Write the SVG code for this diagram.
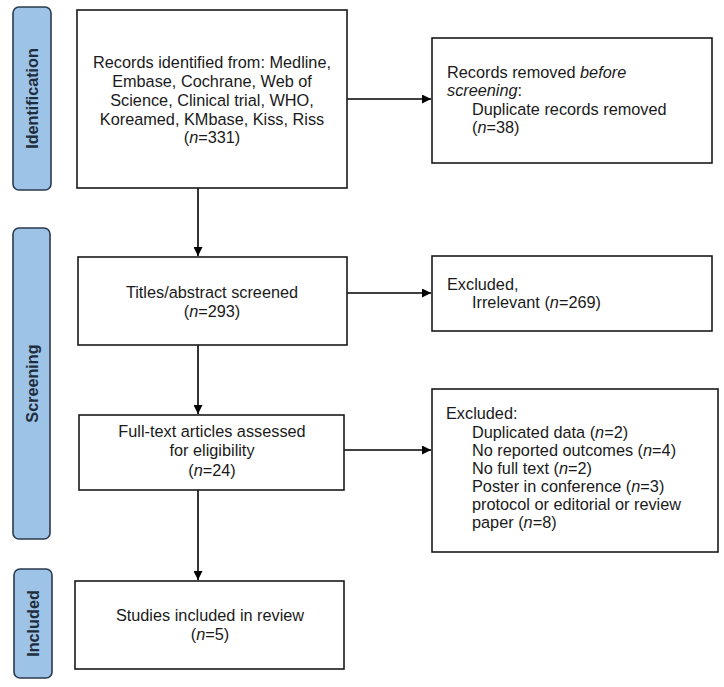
<svg xmlns="http://www.w3.org/2000/svg" width="724" height="687" viewBox="0 0 724 687">
<style>
.box{fill:#fff;stroke:#1a1a1a;stroke-width:1.6}
.side{fill:#9dc3e6;stroke:#2b3a4e;stroke-width:1.6}
.t{font-family:"Liberation Sans",Arial,sans-serif;font-size:16.3px;fill:#1a1a1a}
.c{text-anchor:middle}
.s{font-family:"Liberation Sans",Arial,sans-serif;font-size:16.2px;font-weight:bold;fill:#1f2d3d;text-anchor:middle}
.ln{stroke:#000;stroke-width:1.6;fill:none;marker-end:url(#ah)}
</style>
<defs>
<marker id="ah" viewBox="0 0 10 10" refX="10" refY="5" markerWidth="9" markerHeight="9" markerUnits="userSpaceOnUse" orient="auto">
<path d="M0,0 L10,5 L0,10 z" fill="#000"/>
</marker>
</defs>
<rect width="724" height="687" fill="#fff"/>
<g id="side-identification">
<rect class="side" x="13" y="7" width="38" height="183" rx="6"/>
<text class="s" transform="translate(38,98.5) rotate(-90)">Identification</text>
</g>
<g id="side-screening">
<rect class="side" x="13" y="228" width="37" height="311" rx="6"/>
<text class="s" transform="translate(37.5,383.5) rotate(-90)">Screening</text>
</g>
<g id="side-included">
<rect class="side" x="14" y="569" width="38" height="109" rx="6"/>
<text class="s" transform="translate(39,623.5) rotate(-90)">Included</text>
</g>
<g id="connectors">
<line class="ln" x1="347" y1="99" x2="431" y2="99"/>
<line class="ln" x1="198" y1="188" x2="198" y2="256"/>
<line class="ln" x1="347" y1="293" x2="431" y2="293"/>
<line class="ln" x1="198" y1="345" x2="198" y2="414"/>
<line class="ln" x1="344" y1="450" x2="431" y2="450"/>
<line class="ln" x1="198" y1="490" x2="198" y2="580"/>
</g>
<g id="records-identified">
<rect class="box" x="77" y="10" width="270" height="178"/>
<text class="t c" x="212" y="68">Records identified from: Medline,</text>
<text class="t c" x="212" y="87">Embase, Cochrane, Web of</text>
<text class="t c" x="212" y="106">Science, Clinical trial, WHO,</text>
<text class="t c" x="212" y="125">Koreamed, KMbase, Kiss, Riss</text>
<text class="t c" x="212" y="143">(<tspan font-style="italic">n</tspan>=331)</text>
</g>
<g id="records-removed">
<rect class="box" x="432" y="38" width="280" height="125"/>
<text class="t" x="447" y="78">Records removed <tspan font-style="italic">before</tspan></text>
<text class="t" x="447" y="96"><tspan font-style="italic">screening</tspan>:</text>
<text class="t" x="472" y="115">Duplicate records removed</text>
<text class="t" x="472" y="133">(<tspan font-style="italic">n</tspan>=38)</text>
</g>
<g id="titles-screened">
<rect class="box" x="78" y="257" width="269" height="88"/>
<text class="t c" x="212" y="298">Titles/abstract screened</text>
<text class="t c" x="212" y="317">(<tspan font-style="italic">n</tspan>=293)</text>
</g>
<g id="excluded-irrelevant">
<rect class="box" x="432" y="256" width="280" height="75"/>
<text class="t" x="447" y="290">Excluded,</text>
<text class="t" x="472" y="308">Irrelevant (<tspan font-style="italic">n</tspan>=269)</text>
</g>
<g id="full-text">
<rect class="box" x="79" y="415" width="265" height="75"/>
<text class="t c" x="212" y="437">Full-text articles assessed</text>
<text class="t c" x="212" y="456">for eligibility</text>
<text class="t c" x="212" y="476">(<tspan font-style="italic">n</tspan>=24)</text>
</g>
<g id="excluded-full">
<rect class="box" x="432" y="389" width="286" height="163"/>
<text class="t" x="446" y="419">Excluded:</text>
<text class="t" x="472" y="438">Duplicated data (<tspan font-style="italic">n</tspan>=2)</text>
<text class="t" x="472" y="456">No reported outcomes (<tspan font-style="italic">n</tspan>=4)</text>
<text class="t" x="472" y="474">No full text (<tspan font-style="italic">n</tspan>=2)</text>
<text class="t" x="472" y="492">Poster in conference (<tspan font-style="italic">n</tspan>=3)</text>
<text class="t" x="472" y="510">protocol or editorial or review</text>
<text class="t" x="472" y="528">paper (<tspan font-style="italic">n</tspan>=8)</text>
</g>
<g id="studies-included">
<rect class="box" x="75" y="581" width="269" height="88"/>
<text class="t c" x="210" y="621">Studies included in review</text>
<text class="t c" x="210" y="640">(<tspan font-style="italic">n</tspan>=5)</text>
</g>
</svg>
